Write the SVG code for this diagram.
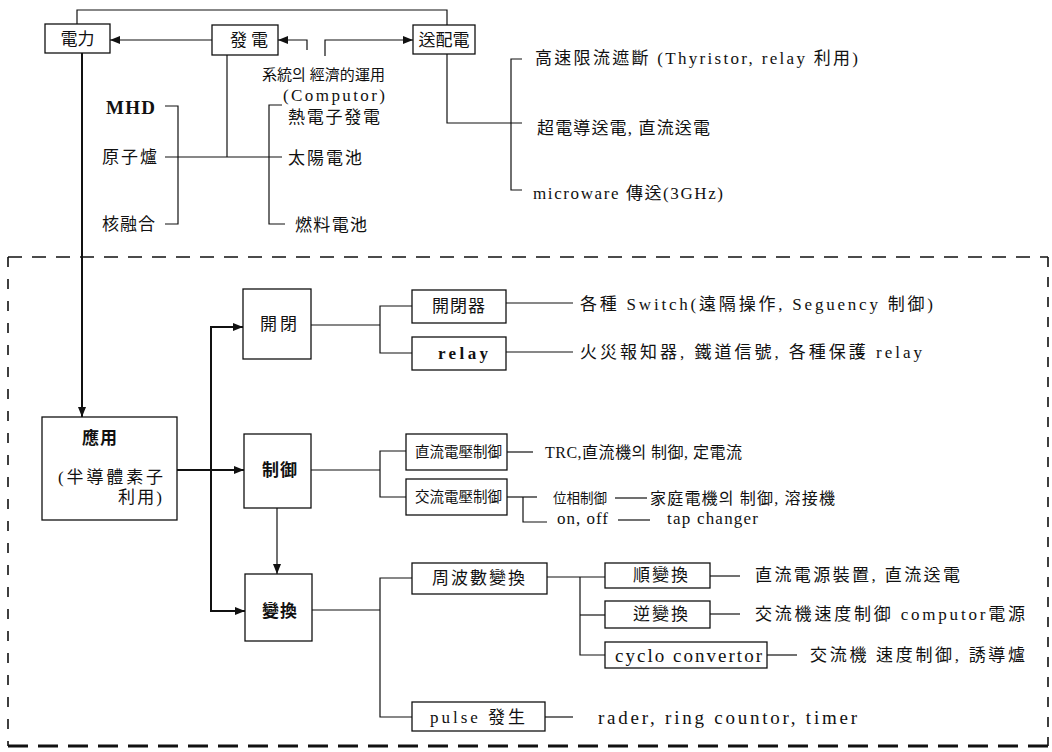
<svg xmlns="http://www.w3.org/2000/svg" width="1052" height="752" viewBox="0 0 1052 752">
<style>
text{font-family:"Liberation Serif","Noto Sans CJK KR","Noto Sans CJK TC",serif;font-size:17px;fill:#111;dominant-baseline:central}
.b{font-weight:bold}
.box{fill:#fff;stroke:#111;stroke-width:1.3}
.ln{fill:none;stroke:#111;stroke-width:1.2}
.th{fill:none;stroke:#111;stroke-width:2}
.dash{fill:none;stroke:#111;stroke-width:1.6;stroke-dasharray:14 10}
.dashb{fill:none;stroke:#111;stroke-width:3;stroke-dasharray:20 10}
</style>
<defs>
<marker id="arr" markerUnits="userSpaceOnUse" markerWidth="10" markerHeight="8" refX="10" refY="4" orient="auto">
<path d="M0,0 L10,4 L0,8 z" fill="#111"/>
</marker>
</defs>

<g id="frame">
<path class="dash" d="M8,257 H1048"/>
<path class="dash" d="M1048,257 V746" style="stroke-dasharray:10 10"/>
<path class="dash" d="M8,257 V746" style="stroke-dasharray:10 12"/>
<path class="dashb" d="M8,746 H1048"/>
</g>

<g id="connectors">
<path class="ln" d="M77,24 V10 H447 V25"/>
<path class="ln" d="M212,40 H110" marker-end="url(#arr)"/>
<path class="ln" d="M307,50 V40 H278" marker-end="url(#arr)"/>
<path class="ln" d="M325,56 V40 H413" marker-end="url(#arr)"/>
<path class="ln" d="M227,55 V157"/>
<path class="ln" d="M165,157 H282"/>
<path class="ln" d="M165,106 H178 V224 H165"/>
<path class="ln" d="M282,105 H269 V224 H285"/>
<path class="ln" d="M447,54 V123 H522"/>
<path class="ln" d="M522,59 H511 V190 H522"/>
<path class="th" d="M82,53 V417" marker-end="url(#arr)"/>
<path class="th" d="M177,470 H244" marker-end="url(#arr)"/>
<path class="th" d="M211,470 V327 H243" marker-end="url(#arr)"/>
<path class="th" d="M211,470 V611 H245" marker-end="url(#arr)"/>
<path class="ln" d="M277,508 V574" marker-end="url(#arr)"/>
<path class="ln" d="M311,325 H380"/>
<path class="ln" d="M412,306 H380 V353 H412"/>
<path class="ln" d="M506,303 H573"/>
<path class="ln" d="M506,352 H573"/>
<path class="ln" d="M311,470 H380"/>
<path class="ln" d="M406,451 H380 V497 H406"/>
<path class="ln" d="M507,452 H533"/>
<path class="ln" d="M507,497 H537"/>
<path class="ln" d="M523,497 V522 H547"/>
<path class="ln" d="M615,498 H647"/>
<path class="ln" d="M618,520 H650"/>
<path class="ln" d="M312,610 H380"/>
<path class="ln" d="M412,578 H380 V717 H412"/>
<path class="ln" d="M547,577 H605"/>
<path class="ln" d="M580,577 V655 H605"/>
<path class="ln" d="M580,615 H605"/>
<path class="ln" d="M710,576 H740"/>
<path class="ln" d="M710,614 H740"/>
<path class="ln" d="M767,655 H797"/>
<path class="ln" d="M545,717 H573"/>
</g>

<g id="n-denryoku"><rect class="box" x="45" y="24" width="65" height="29"/><text x="77.5" y="39" text-anchor="middle" textLength="34">電力</text></g>
<g id="n-hatsuden"><rect class="box" x="212" y="25" width="66" height="30"/><text x="249" y="40" text-anchor="middle" textLength="38">發電</text></g>
<g id="n-souhaiden"><rect class="box" x="413" y="25" width="62" height="29"/><text x="444" y="40" text-anchor="middle">送配電</text></g>
<g id="n-keitou"><text x="262" y="75" style="font-size:15px" textLength="123">系統의 經濟的運用</text><text x="283" y="95" textLength="102">(Computor)</text></g>
<g id="n-mhd"><text class="b" x="106" y="107" style="font-size:19px" textLength="49">MHD</text></g>
<g id="n-genshiro"><text x="102" y="157" textLength="55">原子爐</text></g>
<g id="n-kakuyugo"><text x="102" y="224" textLength="53">核融合</text></g>
<g id="n-netsu"><text x="288" y="117" textLength="92">熱電子發電</text></g>
<g id="n-taiyo"><text x="288" y="158" textLength="74">太陽電池</text></g>
<g id="n-nenryo"><text x="295" y="225" textLength="72">燃料電池</text></g>
<g id="n-kousoku"><text x="535" y="58" textLength="323">高速限流遮斷 (Thyristor, relay 利用)</text></g>
<g id="n-chodendo"><text x="537" y="128" textLength="173">超電導送電, 直流送電</text></g>
<g id="n-micro"><text x="533" y="193" textLength="190">microware 傳送(3GHz)</text></g>

<g id="n-ouyou"><rect class="box" x="42" y="417" width="135" height="103"/><text class="b" x="82" y="438" textLength="35">應用</text><text x="58" y="477" textLength="105">(半導體素子</text><text x="118" y="497" textLength="44">利用)</text></g>
<g id="n-kaihei"><rect class="box" x="243" y="289" width="68" height="70"/><text x="260" y="324" textLength="37">開閉</text></g>
<g id="n-seigyo"><rect class="box" x="244" y="434" width="67" height="74"/><text class="b" x="262" y="470" textLength="35">制御</text></g>
<g id="n-henkan"><rect class="box" x="245" y="574" width="67" height="67"/><text class="b" x="262" y="611" textLength="35">變換</text></g>

<g id="n-kaiheiki"><rect class="box" x="412" y="290" width="94" height="33"/><text x="432" y="306" textLength="53">開閉器</text></g>
<g id="n-relay"><rect class="box" x="412" y="337" width="94" height="33"/><text class="b" x="438" y="353" textLength="50">relay</text></g>
<g id="n-switch"><text x="580" y="304" textLength="353">各種 Switch(遠隔操作, Seguency 制御)</text></g>
<g id="n-kasai"><text x="580" y="352" textLength="342">火災報知器, 鐵道信號, 各種保護 relay</text></g>

<g id="n-dcv"><rect class="box" x="406" y="434" width="101" height="36"/><text x="415" y="452" style="font-size:14.5px" textLength="87">直流電壓制御</text></g>
<g id="n-acv"><rect class="box" x="406" y="479" width="101" height="36"/><text x="415" y="497" style="font-size:14.5px" textLength="87">交流電壓制御</text></g>
<g id="n-trc"><text x="545" y="452" style="font-size:16px" textLength="197">TRC,直流機의 制御, 定電流</text></g>
<g id="n-isou"><text x="553" y="498" style="font-size:13.5px" textLength="54">位相制御</text></g>
<g id="n-katei"><text x="650" y="498" style="font-size:16px" textLength="185">家庭電機의 制御, 溶接機</text></g>
<g id="n-onoff"><text x="557" y="518" textLength="51">on, off</text></g>
<g id="n-tap"><text x="667" y="518" textLength="91">tap changer</text></g>

<g id="n-shuha"><rect class="box" x="412" y="563" width="135" height="31"/><text x="432" y="578" textLength="93">周波數變換</text></g>
<g id="n-pulse"><rect class="box" x="412" y="702" width="133" height="29"/><text x="430" y="717" textLength="95">pulse 發生</text></g>
<g id="n-rader"><text x="598" y="717" style="font-size:19px" textLength="259">rader, ring countor, timer</text></g>
<g id="n-jun"><rect class="box" x="605" y="563" width="105" height="25"/><text x="633" y="575" textLength="55">順變換</text></g>
<g id="n-gyaku"><rect class="box" x="605" y="601" width="105" height="27"/><text x="633" y="614" textLength="55">逆變換</text></g>
<g id="n-cyclo"><rect class="box" x="605" y="642" width="162" height="26"/><text x="615" y="655" style="font-size:19px" textLength="147">cyclo convertor</text></g>
<g id="n-dcsrc"><text x="755" y="575" textLength="205">直流電源裝置, 直流送電</text></g>
<g id="n-acspeed"><text x="755" y="614" textLength="270">交流機速度制御 computor電源</text></g>
<g id="n-acspeed2"><text x="810" y="655" textLength="215">交流機 速度制御, 誘導爐</text></g>
</svg>
